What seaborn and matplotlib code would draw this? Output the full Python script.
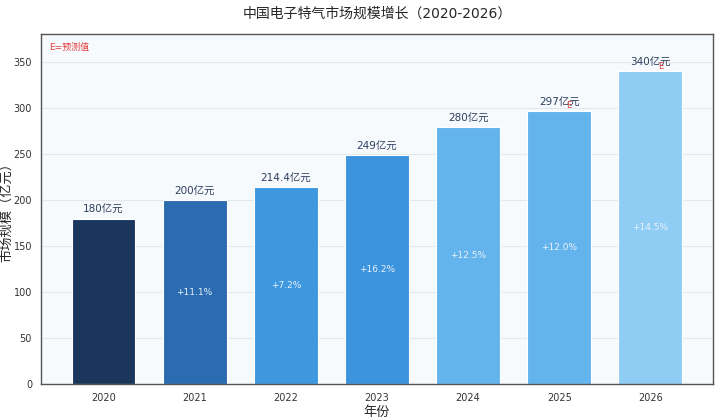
import matplotlib
matplotlib.use('Agg')
import matplotlib.pyplot as plt
import seaborn as sns
import pandas as pd

sns.set_style('white')
plt.rcParams['font.family'] = ['DejaVu Sans', 'Noto Sans CJK SC']
plt.rcParams['axes.unicode_minus'] = False

# 数据
years = ['2020', '2021', '2022', '2023', '2024', '2025', '2026']
market_size = [180, 200, 214.4, 249, 280, 297, 340]
size_labels = ['180亿元', '200亿元', '214.4亿元', '249亿元', '280亿元', '297亿元', '340亿元']
growth_labels = ['', '+11.1%', '+7.2%', '+16.2%', '+12.5%', '+12.0%', '+14.5%']
is_forecast = [False, False, False, False, False, True, True]
bar_colors = ['#1a365d', '#2b6cb0', '#3e98e0', '#3d94de', '#63b3ed', '#63b3ed', '#90cdf4']

df = pd.DataFrame({'年份': years, '规模': market_size})

fig = plt.figure(figsize=(7.2, 4.19), dpi=100)
ax = fig.add_axes([0.057, 0.0835, 0.933, 0.8355])
ax.set_facecolor('#f7fafc')

sns.barplot(data=df, x='年份', y='规模', hue='年份', palette=bar_colors,
            legend=False, width=0.7, ax=ax, edgecolor='white', linewidth=0.8,
            saturation=1)

ax.yaxis.grid(True, color='#e2e8f0', linewidth=0.8)
ax.set_axisbelow(True)

for i, (v, lab, g, fc) in enumerate(zip(market_size, size_labels, growth_labels, is_forecast)):
    ax.text(i, v + 3.5, lab, ha='center', va='bottom', fontsize=7.5, color='#2d3e5f')
    if g:
        ax.text(i, v / 2, g, ha='center', va='center', fontsize=6.5, color='#e8f1fb')
    if fc:
        ax.text(i + 0.11, v + 1, 'E', ha='center', va='bottom', fontsize=6, color='#e53e3e')

ax.text(0.012, 0.975, 'E=预测值', transform=ax.transAxes, ha='left', va='top',
        fontsize=6.5, color='#e53e3e')

ax.set_xlim(-0.685, 6.685)
ax.set_ylim(0, 380.8)
ax.set_yticks([0, 50, 100, 150, 200, 250, 300, 350])
ax.tick_params(axis='both', labelsize=7, colors='#333333', length=3)
ax.set_xlabel('年份', fontsize=9.5, labelpad=2)
ax.set_ylabel('市场规模（亿元）', fontsize=9.5)
ax.yaxis.set_label_coords(-0.041, 0.5)
ax.set_title('中国电子特气市场规模增长（2020-2026）', fontsize=10, pad=12)

for s in ax.spines.values():
    s.set_color('#555555')
    s.set_linewidth(1)

fig.savefig('out.png', dpi=100)
